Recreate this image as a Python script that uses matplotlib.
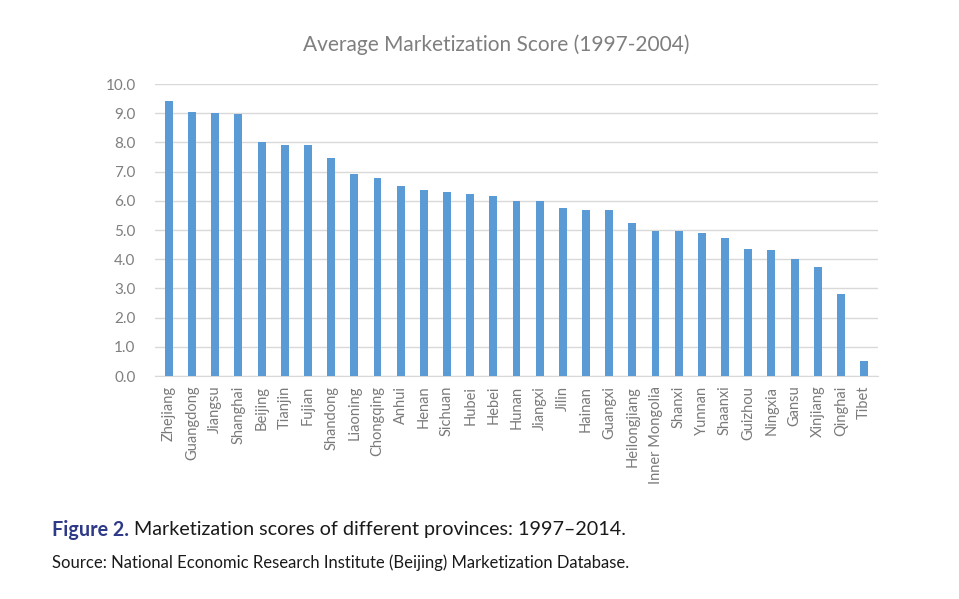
import matplotlib
matplotlib.use("Agg")
import matplotlib.pyplot as plt

provinces = ["Zhejiang", "Guangdong", "Jiangsu", "Shanghai", "Beijing", "Tianjin", "Fujian",
             "Shandong", "Liaoning", "Chongqing", "Anhui", "Henan", "Sichuan", "Hubei", "Hebei",
             "Hunan", "Jiangxi", "Jilin", "Hainan", "Guangxi", "Heilongjiang", "Inner Mongolia",
             "Shanxi", "Yunnan", "Shaanxi", "Guizhou", "Ningxia", "Gansu", "Xinjiang", "Qinghai", "Tibet"]
scores = [9.43, 9.05, 9.01, 8.98, 8.00, 7.92, 7.92,
          7.47, 6.91, 6.79, 6.50, 6.37, 6.29, 6.22, 6.16,
          6.01, 6.00, 5.75, 5.70, 5.67, 5.25, 4.98,
          4.98, 4.89, 4.74, 4.35, 4.33, 4.01, 3.75, 2.81, 0.53]
yticks = [0, 1, 2, 3, 4, 5, 6, 7, 8, 9, 10]

plt.rcParams['font.family'] = ['Lato', 'DejaVu Sans']

fig = plt.figure(figsize=(9.59, 5.99), dpi=100)
ax = fig.add_axes([155/959, 1-376/599, (878-155)/959, (376-84)/599])

x = list(range(len(provinces)))
ax.bar(x, scores, width=0.34, color="#5B9BD5", zorder=3)
ax.set_xlim(-0.6, len(provinces) - 0.4)
ax.set_ylim(0, 10)
ax.set_yticks(yticks)
ax.set_yticklabels([f"{v:.1f}" for v in yticks], fontsize=11, color="#7F7F7F")
ax.set_xticks(x)
ax.set_xticklabels(provinces, rotation=90, fontsize=10.5, color="#7A7A7A")
ax.tick_params(axis='both', length=0)
ax.tick_params(axis='y', pad=14)
ax.tick_params(axis='x', pad=7)
ax.grid(axis='y', color="#D9D9D9", linewidth=1, zorder=0)
for s in ["top", "right", "left"]:
    ax.spines[s].set_visible(False)
ax.spines["bottom"].set_color("#D9D9D9")

fig.text(496/959, 1-45/599, "Average Marketization Score (1997-2004)", ha="center", va="center",
         fontsize=15, color="#7F7F7F")

t1 = fig.text(52/959, 1-530/599, "Figure 2.", ha="left", va="center", fontsize=14.2,
              color="#2E3A87", fontweight="bold")
fig.canvas.draw()
bb = t1.get_window_extent()
fig.text((bb.x1 + 5) / 959, 1-530/599, "Marketization scores of different provinces: 1997\u20132014.",
         ha="left", va="center", fontsize=14.2, color="#1A1A1A")
fig.text(52/959, 1-563/599, "Source: National Economic Research Institute (Beijing) Marketization Database.",
         ha="left", va="center", fontsize=12, color="#1A1A1A")

fig.savefig("out.png", dpi=100, facecolor="white")
